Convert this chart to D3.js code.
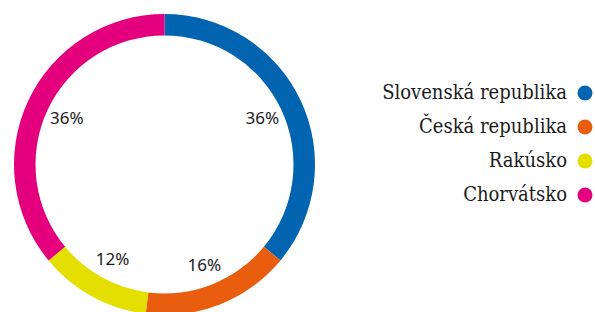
<!DOCTYPE html>
<html>
<head>
<meta charset="utf-8">
<script src="https://cdn.jsdelivr.net/npm/d3@7"></script>
<style>
  html, body { margin: 0; padding: 0; background: #fff; }
  svg { display: block; }
</style>
</head>
<body>
<div id="chart"></div>
<script>
const countries = ['Slovenská republika', 'Česká republika', 'Rakúsko', 'Chorvátsko'];
const shares = [36, 16, 12, 36];
const colors = ['#0064b0', '#e95d0f', '#e5df00', '#e4007d'];

const width = 595, height = 312;
const cx = 164.5, cy = 164.5;
const outerR = 150.5, innerR = 129, labelR = 108;

const svg = d3.select('#chart').append('svg')
    .attr('width', width)
    .attr('height', height);

const data = countries.map((name, i) => ({ name: name, value: shares[i], color: colors[i] }));

const pie = d3.pie()
    .sort(null)
    .value(d => d.value);

const arc = d3.arc()
    .innerRadius(innerR)
    .outerRadius(outerR);

const labelArc = d3.arc()
    .innerRadius(labelR)
    .outerRadius(labelR);

const ring = svg.append('g')
    .attr('transform', `translate(${cx},${cy})`);

const arcs = pie(data);

ring.selectAll('path')
    .data(arcs)
    .enter()
    .append('path')
    .attr('d', arc)
    .style('fill', d => d.data.color);

ring.selectAll('text')
    .data(arcs)
    .enter()
    .append('text')
    .attr('transform', d => `translate(${labelArc.centroid(d)})`)
    .attr('text-anchor', 'middle')
    .attr('dy', '0.35em')
    .style('font-family', '"Noto Sans", "Open Sans", sans-serif')
    .style('font-size', '17px')
    .style('fill', '#1a1a1a')
    .text(d => d.data.value + '%');

// legend
const legendY = d3.scalePoint()
    .domain(countries)
    .range([93, 195]);

const legend = svg.append('g');

const rows = legend.selectAll('g')
    .data(data)
    .enter()
    .append('g')
    .attr('transform', d => `translate(0,${legendY(d.name)})`);

rows.append('circle')
    .attr('cx', 585)
    .attr('cy', 0)
    .attr('r', 7.5)
    .style('fill', d => d.color);

rows.append('text')
    .attr('x', 567)
    .attr('y', 6)
    .attr('text-anchor', 'end')
    .style('font-family', '"DejaVu Serif Condensed", "DejaVu Serif", serif')
    .style('font-size', '20px')
    .style('fill', '#1a1a1a')
    .text(d => d.name);
</script>
</body>
</html>
